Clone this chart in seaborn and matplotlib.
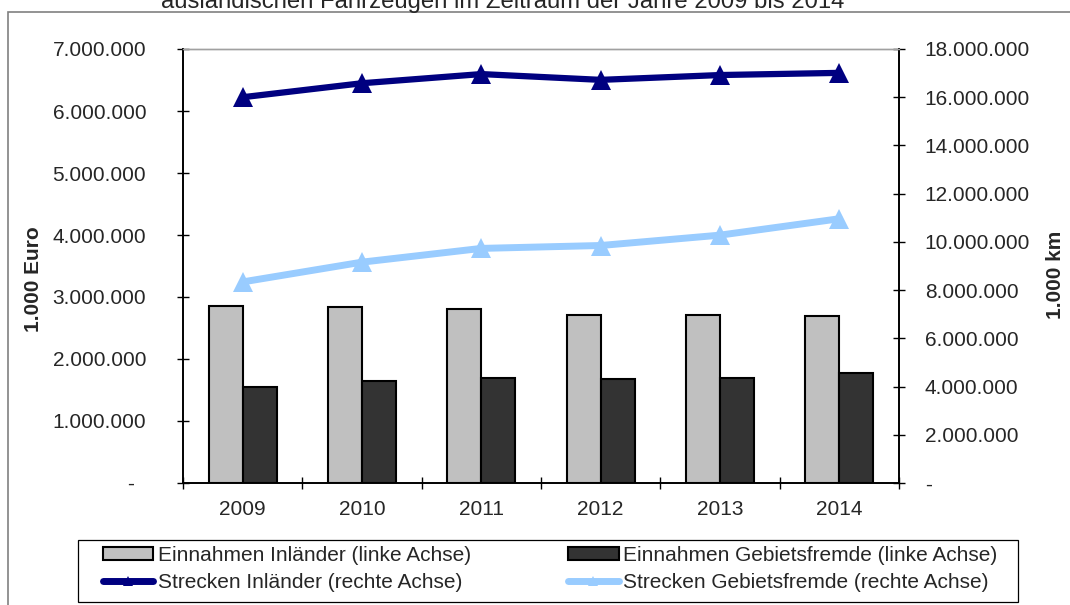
import matplotlib
matplotlib.use("Agg")
import matplotlib.pyplot as plt
import seaborn as sns
import numpy as np
import pandas as pd
from matplotlib.patches import Rectangle, Patch
from matplotlib.lines import Line2D
from matplotlib.ticker import FuncFormatter

years = ["2009", "2010", "2011", "2012", "2013", "2014"]
einnahmen_inl = [2860000, 2840000, 2810000, 2710000, 2710000, 2690000]
einnahmen_geb = [1550000, 1650000, 1690000, 1670000, 1690000, 1770000]
strecken_inl = [16000000, 16580000, 16960000, 16720000, 16920000, 17010000]
strecken_geb = [8340000, 9160000, 9730000, 9850000, 10280000, 10960000]

lab_ein_inl = "Einnahmen Inländer (linke Achse)"
lab_ein_geb = "Einnahmen Gebietsfremde (linke Achse)"
lab_str_inl = "Strecken Inländer (rechte Achse)"
lab_str_geb = "Strecken Gebietsfremde (rechte Achse)"
title = "ausländischen Fahrzeugen im Zeitraum der Jahre 2009 bis 2014"

c_light, c_dark = "#C0C0C0", "#333333"
c_navy, c_sky = "#000080", "#99CCFF"

sns.set_style("white")
plt.rcParams["font.family"] = ["Liberation Sans", "DejaVu Sans"]

W, H = 1070, 605
fig = plt.figure(figsize=(W / 100, H / 100), dpi=100)
ax = fig.add_axes([183 / W, 1 - 483 / H, (899 - 183) / W, (483 - 49) / H])

df = pd.DataFrame({
    "Jahr": years * 2,
    "Serie": [lab_ein_inl] * 6 + [lab_ein_geb] * 6,
    "Wert": einnahmen_inl + einnahmen_geb,
})
sns.barplot(data=df, x="Jahr", y="Wert", hue="Serie", ax=ax,
            palette={lab_ein_inl: c_light, lab_ein_geb: c_dark},
            width=0.57, saturation=1, errorbar=None, legend=False,
            edgecolor="black", linewidth=1.5)

ax2 = ax.twinx()
sns.pointplot(x=years, y=strecken_inl, ax=ax2, color=c_navy, markers="^",
              errorbar=None, markersize=14, linewidth=4.5, markeredgewidth=0)
sns.pointplot(x=years, y=strecken_geb, ax=ax2, color=c_sky, markers="^",
              errorbar=None, markersize=14, linewidth=5, markeredgewidth=0)

def de_fmt(v, pos):
    if abs(v) < 1:
        return "-  "
    return f"{v:,.0f}".replace(",", ".")

def de_fmt_r(v, pos):
    if abs(v) < 1:
        return "-"
    return f"{v:,.0f}".replace(",", ".")

ax.set_ylim(0, 7000000)
ax.set_yticks(np.arange(0, 7000001, 1000000))
ax.yaxis.set_major_formatter(FuncFormatter(de_fmt))
ax2.set_ylim(0, 18000000)
ax2.set_yticks(np.arange(0, 18000001, 2000000))
ax2.yaxis.set_major_formatter(FuncFormatter(de_fmt_r))
ax.set_xlim(-0.5, 5.5)

ax.set_xticks(range(6))
ax.set_xticklabels(years)
ax.set_xticks(np.arange(-0.5, 6, 1), minor=True)
ax.tick_params(axis="x", which="major", length=0, pad=12, labelsize=15)
ax.tick_params(axis="x", which="minor", direction="inout", length=9,
               width=1, color="black", bottom=True)
ax.tick_params(axis="y", direction="inout", length=9, width=1,
               color="black", pad=22, labelsize=15, left=True)
ax2.tick_params(axis="y", direction="inout", length=9, width=1,
                color="black", pad=14, labelsize=15, right=True)

ax.set_xlabel("")
ax2.set_xlabel("")
ax.set_ylabel("1.000 Euro", fontsize=15, fontweight="bold")
ax.yaxis.set_label_coords(-0.196, 0.47)
ax2.set_ylabel("1.000 km", fontsize=15, fontweight="bold", rotation=90)
ax2.yaxis.set_label_coords(1.206, 0.479)

for a in (ax, ax2):
    for s in a.spines.values():
        s.set_visible(True)
        s.set_color("black")
        s.set_linewidth(1.2)
    a.spines["top"].set_color("#A0A0A0")
    a.spines["top"].set_linewidth(1.0)
    a.grid(False)

# outer frame and title
fig.add_artist(Rectangle((8 / W, -0.2), 1.2, 1 - 12 / H + 0.2,
                         transform=fig.transFigure, fill=False,
                         edgecolor="#808080", linewidth=1.2))
fig.text(503 / W, 1 - 8 / H, title, ha="center", va="baseline", fontsize=17.2)

# legend
fig.add_artist(Rectangle((78 / W, 1 - 602 / H), 940 / W, 62 / H,
                         transform=fig.transFigure, fill=False,
                         edgecolor="black", linewidth=0.9))
handles = [
    Patch(facecolor=c_light, edgecolor="black", linewidth=1.5),
    Line2D([], [], color=c_navy, linewidth=5, marker="^", markersize=7,
           markeredgewidth=0, solid_capstyle="round"),
    Patch(facecolor=c_dark, edgecolor="black", linewidth=1.5),
    Line2D([], [], color=c_sky, linewidth=5, marker="^", markersize=7,
           markeredgewidth=0, solid_capstyle="round"),
]
labels = [lab_ein_inl, lab_str_inl, lab_ein_geb, lab_str_geb]
fig.legend(handles, labels, loc="center", bbox_to_anchor=(550 / W, 1 - 569 / H),
           ncol=2, frameon=False, fontsize=15, borderpad=0,
           handlelength=2.43, handleheight=0.6, handletextpad=0.2,
           columnspacing=4.67, labelspacing=0.42, numpoints=1)

fig.savefig("out.png", dpi=100)
